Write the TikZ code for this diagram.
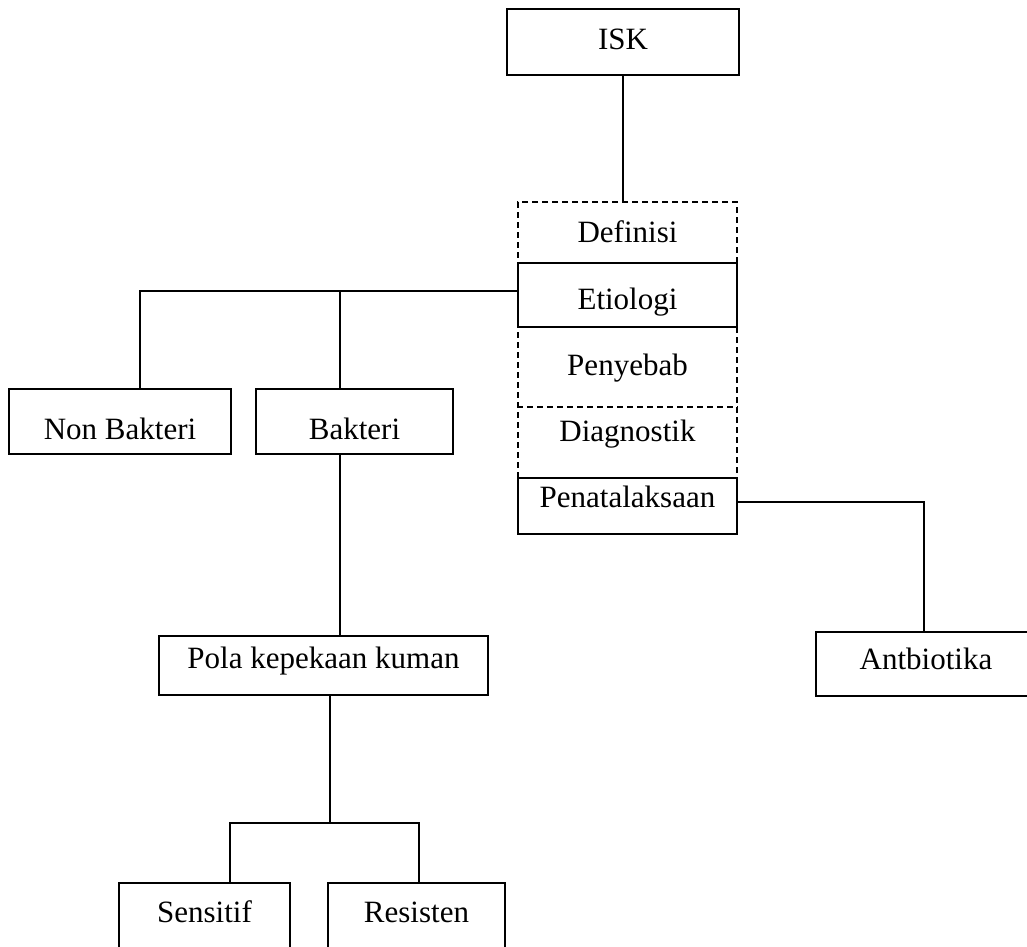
\documentclass[tikz,border=0pt]{standalone}
\usepackage{fontspec}
\setmainfont{Liberation Serif}
\begin{document}
\begin{tikzpicture}[x=1pt,y=-1pt,
  every node/.style={font=\fontsize{31}{36}\selectfont, inner sep=0pt, text=black},
  box/.style={draw=black, line width=1.4pt},
  lbl/.style={text height=20.5pt, text depth=0pt},
  conn/.style={draw=black, line width=1.4pt},
  coldash/.style={draw=black, line width=1.4pt, dash pattern=on 6pt off 4pt}]
\useasboundingbox (0,0) rectangle (1027,946);
\clip (0,0) rectangle (1027,946);
\fill[white] (0,0) rectangle (1027,946);

% column of topics
\node[coldash, minimum width=219pt, minimum height=332pt] (col) at (627.5,368) {};
\coordinate (dv) at (0,407);
\draw[coldash] (col.west |- dv) -- (col.east |- dv);

\node[box, minimum width=232pt, minimum height=66pt, text height=20.5pt, text depth=5pt] (isk) at (623,42) {ISK};
\node[lbl] (def) at (627.5,232.5) {Definisi};
\node[box, fill=white, minimum width=219pt, minimum height=64pt, text height=29.5pt, text depth=0pt] (etio) at (627.5,295) {Etiologi};
\node[lbl] (peny) at (627.5,365.5) {Penyebab};
\node[lbl] (diag) at (627.5,431.5) {Diagnostik};
\node[box, fill=white, minimum width=219pt, minimum height=56pt, text height=20.5pt, text depth=17pt] (pen) at (627.5,506) {Penatalaksaan};

\node[box, minimum width=222pt, minimum height=65pt, text height=35pt, text depth=0pt] (nonb) at (120,421.5) {Non Bakteri};
\node[box, minimum width=197pt, minimum height=65pt, text height=35pt, text depth=0pt] (bak) at (354.5,421.5) {Bakteri};
\node[box, minimum width=329pt, minimum height=59pt, text height=20.5pt, text depth=15pt] (pola) at (323.5,665.5) {Pola kepekaan kuman};
\node[box, minimum width=220pt, minimum height=64pt, text height=20.5pt, text depth=9pt] (anti) at (926,664) {Antbiotika};
\node[box, minimum width=171pt, minimum height=72pt, text height=20.5pt, text depth=14pt] (sens) at (204.5,919) {Sensitif};
\node[box, minimum width=177pt, minimum height=72pt, text height=20.5pt, text depth=14pt] (res) at (416.5,919) {Resisten};

% connectors
\coordinate (xnb) at (140,0);
\coordinate (xb) at (340,0);
\coordinate (xp) at (330,0);
\coordinate (xs) at (230,0);
\coordinate (xr) at (419,0);
\coordinate (xa) at (924,0);
\coordinate (hy) at (0,823);
\coordinate (hl) at ([yshift=4pt]etio.west);
\coordinate (hr) at ([yshift=4pt]pen.east);

\draw[conn] (isk.south) -- (isk.south |- col.north);
\draw[conn] (hl) -| (nonb.north -| xnb);
\draw[conn] (hl -| xb) -- (bak.north -| xb);
\draw[conn] (bak.south -| xb) -- (pola.north -| xb);
\draw[conn] (pola.south -| xp) -- (hy -| xp);
\draw[conn] (sens.north -| xs) -- (hy -| xs) -- (hy -| xr) -- (res.north -| xr);
\draw[conn] (hr) -| (anti.north -| xa);
\end{tikzpicture}
\end{document}
